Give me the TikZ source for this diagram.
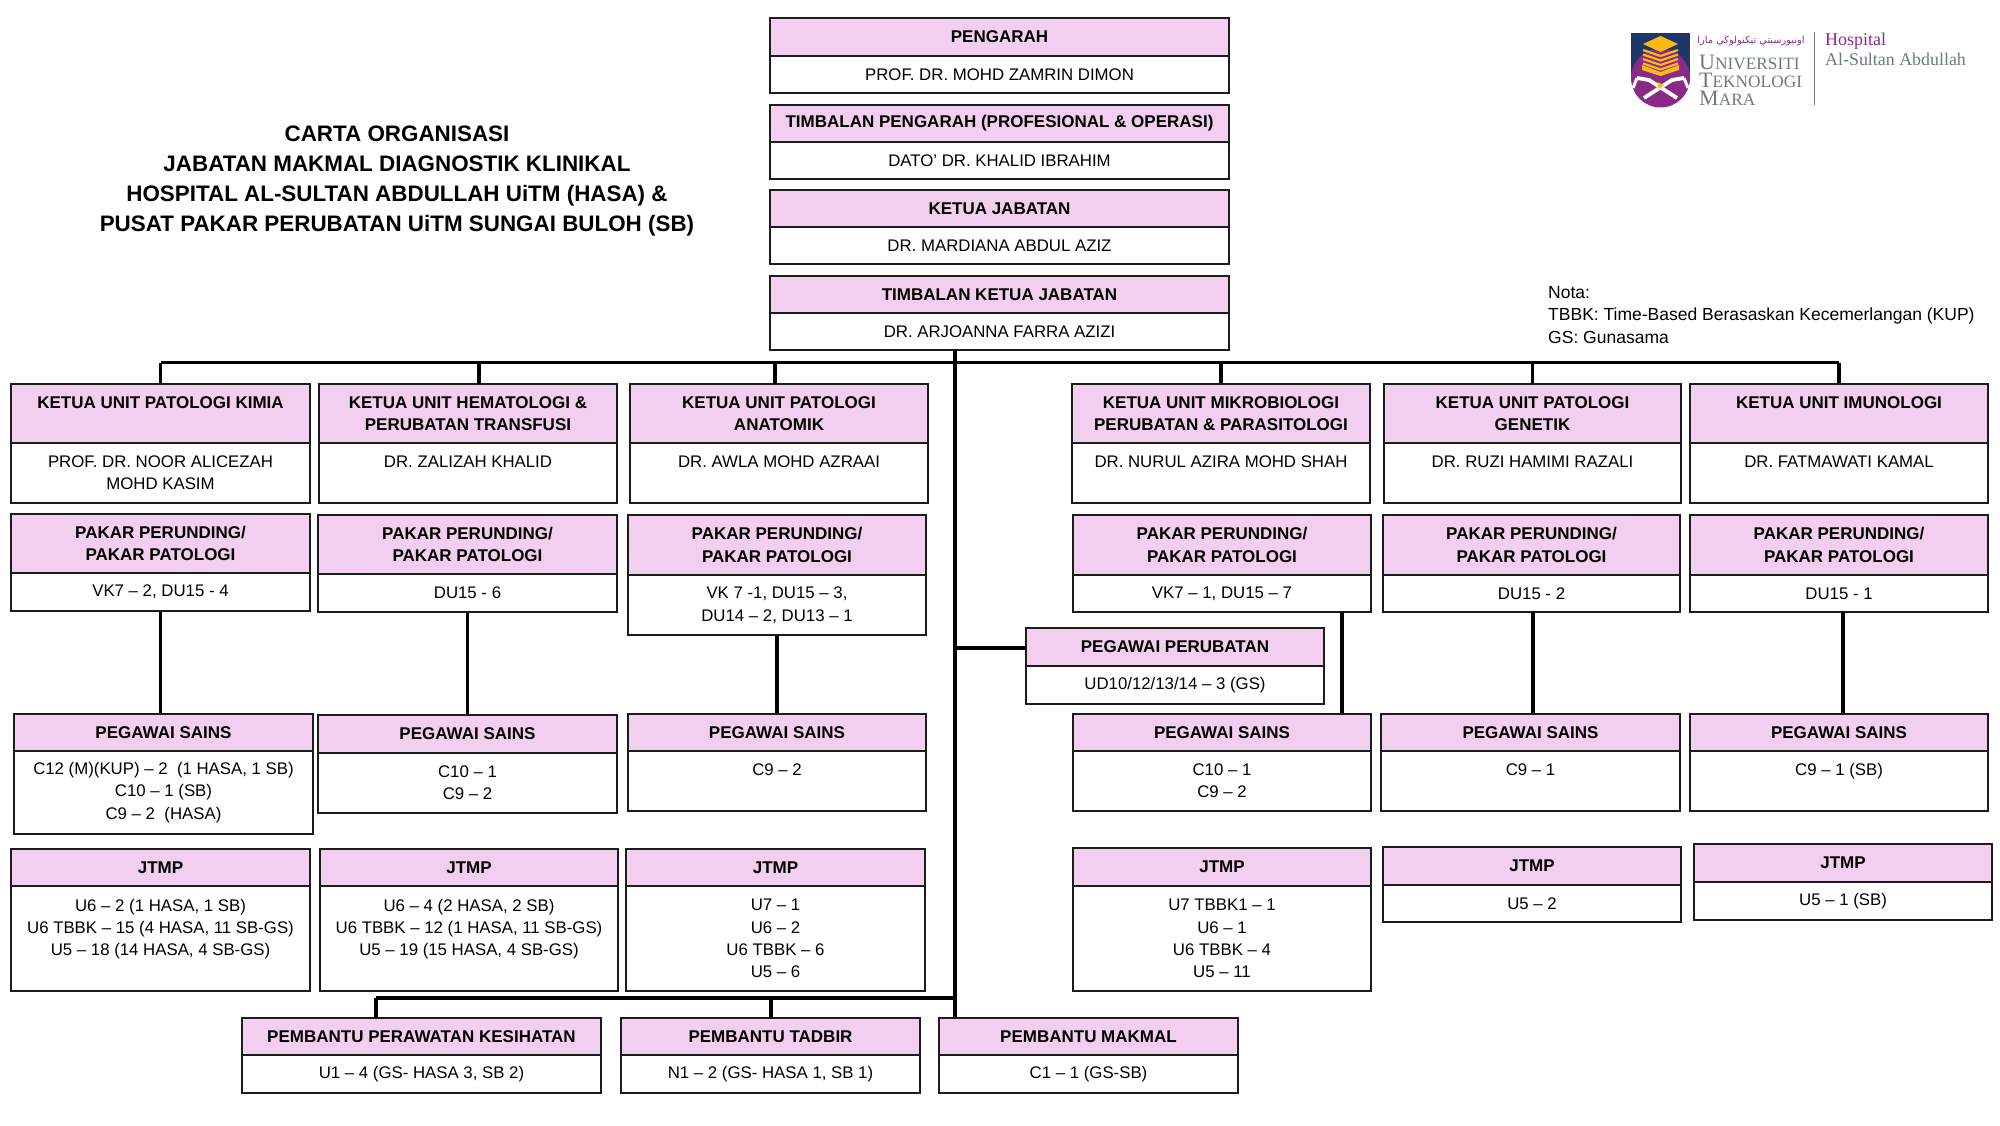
\documentclass[tikz,border=0pt]{standalone}
\usepackage{fontspec}
\setmainfont{Liberation Sans}
\newfontfamily\logofont{Liberation Serif}
\newfontfamily\arabicfont[Script=Arabic]{DejaVu Sans}
\TeXXeTstate=1
\usetikzlibrary{arrows.meta}

\definecolor{headpink}{HTML}{F2CEEF}
\definecolor{inkline}{HTML}{1C1C1C}
\definecolor{logonavy}{HTML}{1F3768}
\definecolor{logopurple}{HTML}{8A2A87}
\definecolor{logogold}{HTML}{FDB913}
\definecolor{logogrey}{HTML}{6E7A7C}

\tikzset{
    cell/.style n args={4}{at={({(#1+#3)/2},{(#2+#4)/2})},
        minimum width={(#3-#1)*1pt}, minimum height={(#4-#2)*1pt}},
    headbox/.style={rectangle, draw=inkline, line width=2.3pt, fill=headpink, inner sep=0pt,
        align=center, font=\fontsize{17}{22.4}\selectfont\bfseries},
    bodybox/.style={rectangle, draw=inkline, line width=2.3pt, fill=white, inner sep=0pt,
        align=center, font=\fontsize{16.8}{22.4}\selectfont},
    titletext/.style={align=center, font=\fontsize{22.4}{30}\selectfont\bfseries},
    notetext/.style={align=left, anchor=north west, inner sep=0pt, font=\fontsize{17.5}{22.4}\selectfont},
    logotext/.style={anchor=west, inner sep=0pt, text=logogrey, font=\logofont}
}

\begin{document}
\begin{tikzpicture}[x=1pt, y=-1pt]
\useasboundingbox (0,0) rectangle (2000,1125);

% title and note
\node (title) at (397,180.5) [titletext] {CARTA ORGANISASI\\JABATAN MAKMAL DIAGNOSTIK KLINIKAL\\HOSPITAL AL-SULTAN ABDULLAH UiTM (HASA) \&\\PUSAT PAKAR PERUBATAN UiTM SUNGAI BULOH (SB)};
\node (nota) at (1548,286) [notetext] {Nota:\\TBBK: Time-Based Berasaskan Kecemerlangan (KUP)\\GS: Gunasama};

% top column
\node (pengarahhead) [headbox, cell={770}{18}{1229}{56}] {PENGARAH};
\node (pengarahbody) [bodybox, cell={770}{56}{1229}{93}] {PROF. DR. MOHD ZAMRIN DIMON};
\node (timbalanhead) [headbox, cell={770}{105}{1229}{142}] {TIMBALAN PENGARAH (PROFESIONAL \& OPERASI)};
\node (timbalanbody) [bodybox, cell={770}{142}{1229}{179}] {DATO’ DR. KHALID IBRAHIM};
\node (ketuahead) [headbox, cell={770}{190}{1229}{227}] {KETUA JABATAN};
\node (ketuabody) [bodybox, cell={770}{227}{1229}{264}] {DR. MARDIANA ABDUL AZIZ};
\node (timketuahead) [headbox, cell={770}{276}{1229}{313}] {TIMBALAN KETUA JABATAN};
\node (timketuabody) [bodybox, cell={770}{313}{1229}{350}] {DR. ARJOANNA FARRA AZIZI};

% ketua unit row
\node (kimiahead) [headbox, cell={11}{384}{310}{443}] {KETUA UNIT PATOLOGI KIMIA\\\mbox{}};
\node (kimiabody) [bodybox, cell={11}{443}{310}{503}] {PROF. DR. NOOR ALICEZAH\\MOHD KASIM};
\node (hemahead) [headbox, cell={319}{384}{617}{443}] {KETUA UNIT HEMATOLOGI \&\\PERUBATAN TRANSFUSI};
\node (hemabody) [bodybox, cell={319}{443}{617}{503}] {DR. ZALIZAH KHALID\\\mbox{}};
\node (anatohead) [headbox, cell={630}{384}{928}{443}] {KETUA UNIT PATOLOGI\\ANATOMIK};
\node (anatobody) [bodybox, cell={630}{443}{928}{503}] {DR. AWLA MOHD AZRAAI\\\mbox{}};
\node (mikrohead) [headbox, cell={1072}{384}{1370}{443}] {KETUA UNIT MIKROBIOLOGI\\PERUBATAN \& PARASITOLOGI};
\node (mikrobody) [bodybox, cell={1072}{443}{1370}{503}] {DR. NURUL AZIRA MOHD SHAH\\\mbox{}};
\node (genehead) [headbox, cell={1384}{384}{1681}{443}] {KETUA UNIT PATOLOGI\\GENETIK};
\node (genebody) [bodybox, cell={1384}{443}{1681}{503}] {DR. RUZI HAMIMI RAZALI\\\mbox{}};
\node (imunhead) [headbox, cell={1690}{384}{1988}{443}] {KETUA UNIT IMUNOLOGI\\\mbox{}};
\node (imunbody) [bodybox, cell={1690}{443}{1988}{503}] {DR. FATMAWATI KAMAL\\\mbox{}};

% pakar row
\node (kimiapakar) [headbox, cell={11}{514}{310}{573}] {PAKAR PERUNDING/\\PAKAR PATOLOGI};
\node (kimiapakarbody) [bodybox, cell={11}{573}{310}{611}] {VK7 – 2, DU15 - 4};
\node (hemapakar) [headbox, cell={318}{515}{617}{574}] {PAKAR PERUNDING/\\PAKAR PATOLOGI};
\node (hemapakarbody) [bodybox, cell={318}{574}{617}{612}] {DU15 - 6};
\node (anatopakar) [headbox, cell={628}{515}{926}{575}] {PAKAR PERUNDING/\\PAKAR PATOLOGI};
\node (anatopakarbody) [bodybox, cell={628}{575}{926}{635}] {VK 7 -1, DU15 – 3,\\DU14 – 2, DU13 – 1};
\node (mikropakar) [headbox, cell={1073}{515}{1371}{575}] {PAKAR PERUNDING/\\PAKAR PATOLOGI};
\node (mikropakarbody) [bodybox, cell={1073}{575}{1371}{612}] {VK7 – 1, DU15 – 7};
\node (genepakar) [headbox, cell={1383}{515}{1680}{575}] {PAKAR PERUNDING/\\PAKAR PATOLOGI};
\node (genepakarbody) [bodybox, cell={1383}{575}{1680}{612}] {DU15 - 2};
\node (imunpakar) [headbox, cell={1690}{515}{1988}{575}] {PAKAR PERUNDING/\\PAKAR PATOLOGI};
\node (imunpakarbody) [bodybox, cell={1690}{575}{1988}{612}] {DU15 - 1};

% pegawai perubatan
\node (perubatanhead) [headbox, cell={1026}{628}{1324}{666}] {PEGAWAI PERUBATAN};
\node (perubatanbody) [bodybox, cell={1026}{666}{1324}{704}] {UD10/12/13/14 – 3 (GS)};

% pegawai sains row
\node (kimiasains) [headbox, cell={14}{714}{313}{751}] {PEGAWAI SAINS};
\node (kimiasainsbody) [bodybox, cell={14}{751}{313}{834}] {C12 (M)(KUP) – 2~ (1 HASA, 1 SB)\\C10 – 1 (SB)\\C9 – 2~ (HASA)};
\node (hemasains) [headbox, cell={318}{715}{617}{753}] {PEGAWAI SAINS};
\node (hemasainsbody) [bodybox, cell={318}{753}{617}{813}] {C10 – 1\\C9 – 2};
\node (anatosains) [headbox, cell={628}{714}{926}{751}] {PEGAWAI SAINS};
\node (anatosainsbody) [bodybox, cell={628}{751}{926}{811}] {C9 – 2\\\mbox{}};
\node (mikrosains) [headbox, cell={1073}{714}{1371}{751}] {PEGAWAI SAINS};
\node (mikrosainsbody) [bodybox, cell={1073}{751}{1371}{811}] {C10 – 1\\C9 – 2};
\node (genesains) [headbox, cell={1381}{714}{1680}{751}] {PEGAWAI SAINS};
\node (genesainsbody) [bodybox, cell={1381}{751}{1680}{811}] {C9 – 1\\\mbox{}};
\node (imunsains) [headbox, cell={1690}{714}{1988}{751}] {PEGAWAI SAINS};
\node (imunsainsbody) [bodybox, cell={1690}{751}{1988}{811}] {C9 – 1 (SB)\\\mbox{}};

% jtmp row
\node (kimiajtmp) [headbox, cell={11}{849}{310}{886}] {JTMP};
\node (kimiajtmpbody) [bodybox, cell={11}{886}{310}{991}] {U6 – 2 (1 HASA, 1 SB)\\U6 TBBK – 15 (4 HASA, 11 SB-GS)\\U5 – 18 (14 HASA, 4 SB-GS)\\\mbox{}};
\node (hemajtmp) [headbox, cell={320}{849}{618}{886}] {JTMP};
\node (hemajtmpbody) [bodybox, cell={320}{886}{618}{991}] {U6 – 4 (2 HASA, 2 SB)\\U6 TBBK – 12 (1 HASA, 11 SB-GS)\\U5 – 19 (15 HASA, 4 SB-GS)\\\mbox{}};
\node (anatojtmp) [headbox, cell={626}{849}{925}{886}] {JTMP};
\node (anatojtmpbody) [bodybox, cell={626}{886}{925}{991}] {U7 – 1\\U6 – 2\\U6 TBBK – 6\\U5 – 6};
\node (mikrojtmp) [headbox, cell={1073}{848}{1371}{886}] {JTMP};
\node (mikrojtmpbody) [bodybox, cell={1073}{886}{1371}{991}] {U7 TBBK1 – 1\\U6 – 1\\U6 TBBK – 4\\U5 – 11};
\node (genejtmp) [headbox, cell={1383}{847}{1681}{885}] {JTMP};
\node (genejtmpbody) [bodybox, cell={1383}{885}{1681}{922}] {U5 – 2};
\node (imunjtmp) [headbox, cell={1694}{844}{1992}{882}] {JTMP};
\node (imunjtmpbody) [bodybox, cell={1694}{882}{1992}{920}] {U5 – 1 (SB)};

% pembantu row
\node (rawathead) [headbox, cell={242}{1018}{601}{1055}] {PEMBANTU PERAWATAN KESIHATAN};
\node (rawatbody) [bodybox, cell={242}{1055}{601}{1093}] {U1 – 4 (GS- HASA 3, SB 2)};
\node (tadbirhead) [headbox, cell={621}{1018}{920}{1055}] {PEMBANTU TADBIR};
\node (tadbirbody) [bodybox, cell={621}{1055}{920}{1093}] {N1 – 2 (GS- HASA 1, SB 1)};
\node (makmalhead) [headbox, cell={939}{1018}{1238}{1055}] {PEMBANTU MAKMAL};
\node (makmalbody) [bodybox, cell={939}{1055}{1238}{1093}] {C1 – 1 (GS-SB)};

% points on the trunk and the two buses
\coordinate (trunk) at (955,350);
\coordinate (topbus) at (955,362.5);
\coordinate (lowbus) at (955,998);
\coordinate (hemadrop) at (479,384);
\coordinate (anatodrop) at (775,384);
\coordinate (gemidrop) at (1533,612);
\coordinate (imundrop) at (1843,612);
\coordinate (mikrodrop) at (1342,612);
\coordinate (rawatdrop) at (376,1018);
\coordinate (tadbirdrop) at (771,1018);
\coordinate (perubatanjoin) at (1026,648);

\begin{scope}[every edge/.style={draw=black, line width=3.2pt}]
    \path (trunk) edge (trunk |- makmalhead.north);
    \path (kimiahead.north |- topbus) edge (imunhead.north |- topbus);
    \path (kimiahead.north |- topbus) edge (kimiahead.north);
    \path (hemadrop |- topbus) edge (hemadrop);
    \path (anatodrop |- topbus) edge (anatodrop);
    \path (mikrohead.north |- topbus) edge (mikrohead.north);
    \path (genehead.north |- topbus) edge (genehead.north);
    \path (imunhead.north |- topbus) edge (imunhead.north);
    \path (kimiapakarbody.south) edge (kimiapakarbody.south |- kimiasains.north);
    \path (hemapakarbody.south) edge (hemapakarbody.south |- hemasains.north);
    \path (anatopakarbody.south) edge (anatopakarbody.south |- anatosains.north);
    \path (mikrodrop) edge (mikrodrop |- mikrosains.north);
    \path (gemidrop) edge (gemidrop |- genesains.north);
    \path (imundrop) edge (imundrop |- imunsains.north);
    \path (perubatanjoin -| trunk) edge (perubatanjoin);
    \path (rawatdrop |- lowbus) edge (lowbus);
    \path (rawatdrop |- lowbus) edge (rawatdrop);
    \path (tadbirdrop |- lowbus) edge (tadbirdrop);
\end{scope}

% logo
\fill[logonavy] (1631,33) rectangle (1690,78);
\fill[logopurple] (1660.5,78) circle (29.5);
\fill[logogold] (1660.5,36) -- (1678,44) -- (1660.5,52) -- (1643,44) -- cycle;
\foreach \y in {50,54.5,59,63.5} {
    \draw[logogold, line width=2.2pt] (1643,\y) -- (1660.5,\y+6) -- (1678,\y);
}
\fill[logogold] (1642,65) -- (1660.5,72) -- (1679,65) -- (1679,70) -- (1660.5,76) -- (1642,70) -- cycle;
\draw[white, line width=3.8pt] (1637,78) -- (1649,80) -- (1677,98);
\draw[white, line width=3.8pt] (1684,78) -- (1672,80) -- (1644,98);
\draw[white, line width=3pt] (1637,78) -- (1633,88);
\draw[white, line width=3pt] (1684,78) -- (1688,88);
\fill[logogold] (1658,82) -- (1664,85.5) -- (1658,89) -- cycle;
\node (jawi) at (1751,41) [inner sep=0pt, text=logopurple, font=\arabicfont\fontsize{9.8}{10}\selectfont] {\beginR اونيورسيتي تيكنولوڬي مارا\endR};
\node (uitm) at (1699,80) [logotext, align=left, font=\logofont\fontsize{17.3}{18}\selectfont] {{\fontsize{22}{18}\selectfont U}NIVERSITI\\{\fontsize{22}{18}\selectfont T}EKNOLOGI\\{\fontsize{22}{18}\selectfont M}ARA};
\coordinate (ruletop) at (1814,32);
\coordinate (rulebottom) at (1814,105);
\draw[logogrey, line width=1pt] (ruletop) -- (rulebottom);
\node (hospital) at (1825,41) [logotext, text=logopurple, font=\logofont\fontsize{18}{18}\selectfont] {Hospital};
\node (sultan) at (1825,59) [logotext, font=\logofont\fontsize{17.9}{18}\selectfont] {Al-Sultan Abdullah};
\end{tikzpicture}
\end{document}
